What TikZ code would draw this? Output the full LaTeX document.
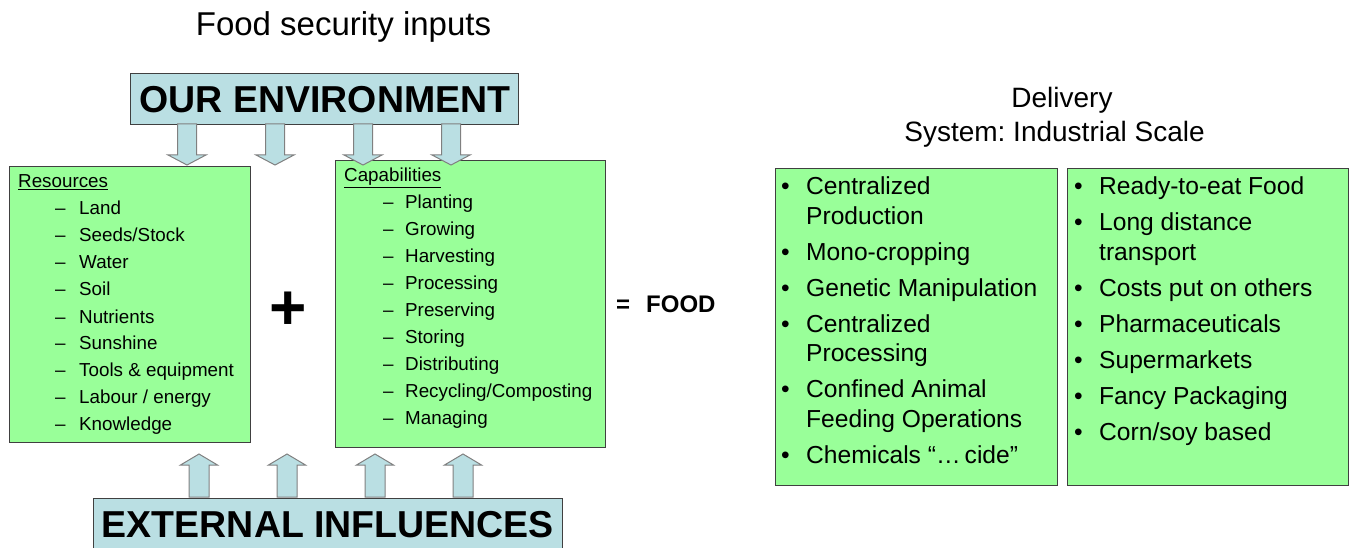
\documentclass[tikz,border=0pt]{standalone}
\usepackage{fontspec}
\setmainfont{Liberation Sans}
\usetikzlibrary{positioning}
\frenchspacing

\definecolor{boxgreen}{RGB}{153,255,153}
\definecolor{boxblue}{RGB}{186,223,227}
\definecolor{edgegray}{RGB}{64,64,64}
\definecolor{arrowgray}{RGB}{128,128,128}

\tikzset{
    greenbox/.style={draw=edgegray, fill=boxgreen, line width=1pt, inner sep=0pt, anchor=north west},
    bluebox/.style={draw=edgegray, fill=boxblue, line width=1pt, inner sep=0pt, anchor=north west},
    fatarrow/.style={draw=arrowgray, fill=boxblue, line width=1pt, line join=miter},
    bigcaps/.style={inner sep=0pt, anchor=base, font=\bfseries\fontsize{37.5}{45}\selectfont},
    heading/.style={inner sep=0pt, anchor=base, font=\fontsize{28}{34}\selectfont},
    smalllist/.style={inner sep=0pt, anchor=base west, font=\fontsize{18.8}{27}\selectfont},
    biglist/.style={inner sep=0pt, anchor=base west, font=\fontsize{24.6}{29.5}\selectfont}
}

\begin{document}
\begin{tikzpicture}[x=1pt, y=-1pt]

    \useasboundingbox (0,0) rectangle (1354,548);

    % Boxes
    \node[bluebox, minimum width=388, minimum height=51] (env) at (130,73) {};
    \node[greenbox, minimum width=241.5, minimum height=275.5] (res) at (8.5,166) {};
    \node[greenbox, minimum width=270, minimum height=287] (cap) at (335,160) {};
    \node[bluebox, minimum width=469, minimum height=62] (ext) at (93,498) {};
    \node[greenbox, minimum width=282, minimum height=317] (prod) at (775,168) {};
    \node[greenbox, minimum width=281, minimum height=317] (deliv) at (1067,168) {};

    % Arrows down
    \draw[fatarrow] (177.5,124) -- ++(0,31) -- ++(-9.5,0) -- ++(19,10) -- ++(19,-10) -- ++(-9.5,0) -- ++(0,-31) -- cycle;
    \draw[fatarrow] (265.5,124) -- ++(0,31) -- ++(-9.5,0) -- ++(19,10) -- ++(19,-10) -- ++(-9.5,0) -- ++(0,-31) -- cycle;
    \draw[fatarrow] (353.5,124) -- ++(0,31) -- ++(-9.5,0) -- ++(19,10) -- ++(19,-10) -- ++(-9.5,0) -- ++(0,-31) -- cycle;
    \draw[fatarrow] (441.5,124) -- ++(0,31) -- ++(-9.5,0) -- ++(19,10) -- ++(19,-10) -- ++(-9.5,0) -- ++(0,-31) -- cycle;

    % Arrows up
    \draw[fatarrow] (189,497) -- ++(0,-32) -- ++(-8.5,0) -- ++(18.5,-11) -- ++(18.5,11) -- ++(-8.5,0) -- ++(0,32) -- cycle;
    \draw[fatarrow] (277,497) -- ++(0,-32) -- ++(-8.5,0) -- ++(18.5,-11) -- ++(18.5,11) -- ++(-8.5,0) -- ++(0,32) -- cycle;
    \draw[fatarrow] (365,497) -- ++(0,-32) -- ++(-8.5,0) -- ++(18.5,-11) -- ++(18.5,11) -- ++(-8.5,0) -- ++(0,32) -- cycle;
    \draw[fatarrow] (453,497) -- ++(0,-32) -- ++(-8.5,0) -- ++(18.5,-11) -- ++(18.5,11) -- ++(-8.5,0) -- ++(0,32) -- cycle;

    % labels
    \node[heading, font=\fontsize{33}{40}\selectfont] (title) at (343.5,36) {Food security inputs};
    \node[bigcaps] (envtext) at (325,112.5) {OUR ENVIRONMENT};
    \node[bigcaps] (exttext) at (328,537.5) {EXTERNAL INFLUENCES};
    \node[heading] (delhead) at (1062,108) {Delivery};
    \node[heading] (syshead) at (1054.5,142) {System: Industrial Scale};

    \node[inner sep=0pt, anchor=base, font=\bfseries\fontsize{64}{70}\selectfont] (plus) at (288,329) {+};
    \node[inner sep=0pt, anchor=base west, font=\bfseries\fontsize{24}{29}\selectfont] (food) at (616,312) {=\hspace{16pt}FOOD};

    % lists
    \node[smalllist] (reslist) at (18,188) {\begin{tabular}[t]{@{}p{37pt}@{}p{24pt}@{}l@{}}
        \multicolumn{3}{@{}l@{}}{\underline{Resources}}\\
        & -- & Land\\
        & -- & Seeds/Stock\\
        & -- & Water\\
        & -- & Soil\\
        & -- & Nutrients\\
        & -- & Sunshine\\
        & -- & Tools \& equipment\\
        & -- & Labour / energy\\
        & -- & Knowledge
    \end{tabular}};

    \node[smalllist] (caplist) at (344,182) {\begin{tabular}[t]{@{}p{39pt}@{}p{22pt}@{}l@{}}
        \multicolumn{3}{@{}l@{}}{\underline{Capabilities}}\\
        & -- & Planting\\
        & -- & Growing\\
        & -- & Harvesting\\
        & -- & Processing\\
        & -- & Preserving\\
        & -- & Storing\\
        & -- & Distributing\\
        & -- & Recycling/Composting\\
        & -- & Managing
    \end{tabular}};

    \node[biglist] (prodlist) at (781,195) {\begin{tabular}[t]{@{}p{25pt}@{}l@{}}
        \textbullet & Centralized\\
        & Production\\[6.5pt]
        \textbullet & Mono-cropping\\[6.5pt]
        \textbullet & Genetic Manipulation\\[6.5pt]
        \textbullet & Centralized\\
        & Processing\\[6.5pt]
        \textbullet & Confined Animal\\
        & Feeding Operations\\[6.5pt]
        \textbullet & Chemicals “…\,cide”
    \end{tabular}};

    \node[biglist] (delivlist) at (1074,195) {\begin{tabular}[t]{@{}p{25pt}@{}l@{}}
        \textbullet & Ready-to-eat Food\\[6.5pt]
        \textbullet & Long distance\\
        & transport\\[6.5pt]
        \textbullet & Costs put on others\\[6.5pt]
        \textbullet & Pharmaceuticals\\[6.5pt]
        \textbullet & Supermarkets\\[6.5pt]
        \textbullet & Fancy Packaging\\[6.5pt]
        \textbullet & Corn/soy based
    \end{tabular}};

\end{tikzpicture}
\end{document}
